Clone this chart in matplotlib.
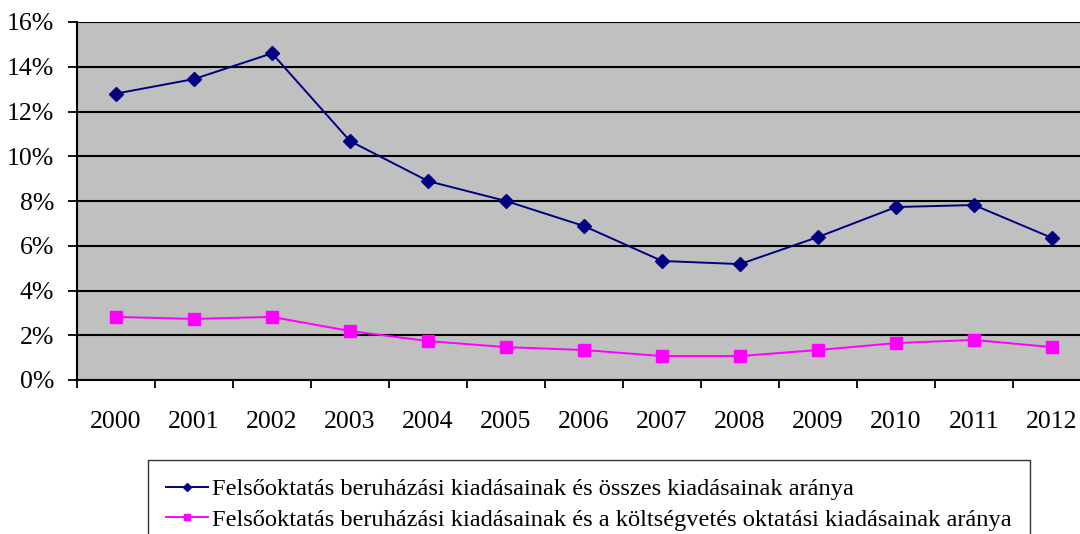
import matplotlib.pyplot as plt
from matplotlib.ticker import FixedLocator, FuncFormatter

plt.rcParams['font.family'] = ['Liberation Serif', 'DejaVu Serif']

# adatok
evek = ['2000', '2001', '2002', '2003', '2004', '2005', '2006',
        '2007', '2008', '2009', '2010', '2011', '2012']
osszes_arany = [12.8, 13.45, 14.6, 10.68, 8.89, 8.0, 6.88,
                5.32, 5.18, 6.39, 7.73, 7.82, 6.35]
oktatasi_arany = [2.82, 2.73, 2.82, 2.19, 1.74, 1.47, 1.34,
                  1.07, 1.07, 1.34, 1.65, 1.79, 1.47]
cimkek = ['Felsőoktatás beruházási kiadásainak és összes kiadásainak aránya',
          'Felsőoktatás beruházási kiadásainak és a költségvetés oktatási kiadásainak aránya']

fig = plt.figure(figsize=(10.8, 5.34), dpi=100)
ax = fig.add_axes([77 / 1080, 1 - 380 / 534, (1091 - 77) / 1080, 358 / 534])
ax.set_facecolor('#C0C0C0')

x = list(range(len(evek)))
ax.plot(x, osszes_arany, color='#000080', marker='D', markersize=7.5,
        linewidth=1.4, label=cimkek[0], zorder=3)
ax.plot(x, oktatasi_arany, color='#FF00FF', marker='s', markersize=8,
        linewidth=1.4, label=cimkek[1], zorder=3)

ax.set_xlim(-0.5, len(evek) - 0.5)
ax.set_ylim(0, 16)

# y tengely
ax.set_yticks(range(0, 17, 2))
ax.yaxis.set_major_formatter(FuncFormatter(lambda v, p: f'{int(v)}%'))
ax.grid(axis='y', color='black', linewidth=1.5)
ax.set_axisbelow(True)

# x tengely: osztásjelek a kategóriák határain, feliratok középen
ax.xaxis.set_major_locator(FixedLocator([i - 0.5 for i in range(len(evek) + 1)]))
ax.xaxis.set_major_formatter(FuncFormatter(lambda v, p: ''))
ax.xaxis.set_minor_locator(FixedLocator(x))
ax.set_xticklabels(evek, minor=True)
ax.tick_params(axis='x', which='minor', length=0, pad=22, labelsize=18.5)
ax.tick_params(axis='x', which='major', length=6, width=1.3, direction='out')
ax.tick_params(axis='y', length=6.5, width=1.3, direction='out', pad=10, labelsize=18.5)

for s in ['top', 'right']:
    ax.spines[s].set_visible(False)
for s in ['left', 'bottom']:
    ax.spines[s].set_linewidth(1.5)
    ax.spines[s].set_color('black')

leg = fig.legend(loc='upper left', bbox_to_anchor=(148 / 1080, 1 - 460 / 534),
                 fontsize=17.6, frameon=True, fancybox=False, edgecolor='black',
                 handlelength=1.7, handletextpad=0.15, labelspacing=0.33,
                 borderpad=0.75, borderaxespad=0, markerscale=0.6)
leg.get_frame().set_linewidth(1.0)

fig.savefig('out.png', dpi=100)
